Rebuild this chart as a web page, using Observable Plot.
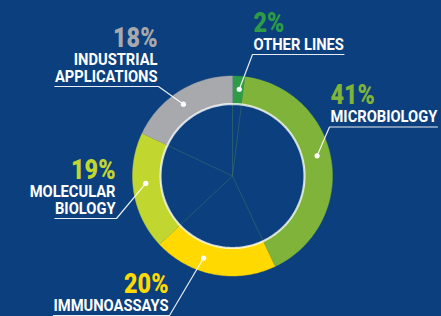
<!DOCTYPE html>
<html>
<head>
<meta charset="utf-8">
<script src="https://cdn.jsdelivr.net/npm/d3@7"></script>
<script src="https://cdn.jsdelivr.net/npm/@observablehq/plot@0.6"></script>
<style>
  html, body { margin: 0; padding: 0; background: #0b3f7e; }
  #chart svg { display: block; }
</style>
</head>
<body>
<div id="chart"></div>
<script>
// ---- data ----
const categories = ["OTHER LINES", "MICROBIOLOGY", "IMMUNOASSAYS", "MOLECULAR\nBIOLOGY", "INDUSTRIAL\nAPPLICATIONS"];
const shares = [2, 41, 20, 19, 18];
const pctLabels = ["2%", "41%", "20%", "19%", "18%"];
const colors = ["#2e9c45", "#80b339", "#ffd900", "#c1d62f", "#a7a9ac"];

// ---- layout (chart units, centre = 0,0, outer radius = 100) ----
const BG = "#0b3f7e";
const R_OUT = 100, R_IN = 72, R_DOT = 87;
const FONT = 'Roboto, "DejaVu Sans", sans-serif';
const NAME_SIZE = 17, PCT_SIZE = 27;
const SX = 0.865; // horizontal condensing of the label type
const layout = [
  {x: 21,   u: -121.5, side: "start", t: 0.62},
  {x: 98,   u: -49,    side: "start", t: 0.47},
  {x: -64,  u: 139.5,  side: "end",   t: 0.62},
  {x: -117, u: 42.5,   side: "end",   t: 0.56},
  {x: -75,  u: -89.5,  side: "end",   t: 0.47}
];

const arcs = d3.pie().sort(null).value(d => d)(shares);
const pt = (r, a) => [r * Math.sin(a), -r * Math.cos(a)];

// ring polygons
const ringPts = [];
arcs.forEach((a, i) => {
  const n = Math.max(4, Math.ceil((a.endAngle - a.startAngle) / 0.02));
  const poly = [];
  for (let k = 0; k <= n; k++) poly.push(pt(R_OUT, a.startAngle + (a.endAngle - a.startAngle) * k / n));
  for (let k = n; k >= 0; k--) poly.push(pt(R_IN, a.startAngle + (a.endAngle - a.startAngle) * k / n));
  poly.forEach(([x, y]) => ringPts.push({x, y, name: categories[i], color: colors[i]}));
});

// inner circle
const circ = d3.range(0, 361, 2).map(d => { const [x, y] = pt(R_IN, d * Math.PI / 180); return {x, y}; });

// faint radial lines
const spokes = [];
arcs.forEach((a, i) => {
  spokes.push({x: 0, y: 0, k: i});
  const [x, y] = pt(R_IN, a.startAngle);
  spokes.push({x, y, k: i});
});

// text measure for underlines
const ctx = document.createElement("canvas").getContext("2d");
ctx.font = `bold ${NAME_SIZE}px ${FONT}`;

const rows = categories.map((c, i) => {
  const a = arcs[i];
  const ang = a.startAngle + (a.endAngle - a.startAngle) * layout[i].t;
  const [dx, dy] = pt(R_DOT, ang);
  const lines = c.split("\n");
  const w = ctx.measureText(lines[lines.length - 1]).width * SX;
  const L = layout[i];
  const nameY = L.u - 5;
  const pctY = nameY - 17 * (lines.length - 1) - 18;
  const far = L.side === "start" ? L.x + w : L.x - w;
  const near = L.side === "start" ? L.x - 1 : L.x + 1;
  return {name: c, pct: pctLabels[i], color: colors[i], side: L.side, x: L.x, nameY, pctY, dx, dy, far, near, u: L.u};
});

const leaders = rows.flatMap((r, i) => [
  {x: r.far, y: r.u, k: i}, {x: r.near, y: r.u, k: i}, {x: r.dx, y: r.dy, k: i}
]);

const textMarks = ["start", "end"].flatMap(side => [
  Plot.text(rows.filter(r => r.side === side), {x: "x", y: "pctY", text: "pct", fill: "color", textAnchor: side, lineAnchor: "bottom", fontSize: PCT_SIZE, fontWeight: 900, className: "lbl"}),
  Plot.text(rows.filter(r => r.side === side), {x: "x", y: "nameY", text: "name", fill: "#ffffff", textAnchor: side, lineAnchor: "bottom", lineHeight: 17 / NAME_SIZE, fontSize: NAME_SIZE, fontWeight: "bold", className: "lbl"})
]);

const plot = Plot.plot({
  width: 441,
  height: 316,
  margin: 0,
  x: {domain: [-232, 209], range: [0, 441], axis: null},
  y: {domain: [-175.5, 140.5], range: [0, 316], axis: null},
  style: {background: BG, fontFamily: FONT},
  marks: [
    Plot.line(ringPts, {x: "x", y: "y", z: "name", fill: "color", stroke: "color", strokeWidth: 0.4, curve: "linear"}),
    Plot.line(spokes, {x: "x", y: "y", z: "k", stroke: "#3f6f6a", strokeWidth: 0.7, strokeOpacity: 0.8}),
    Plot.line(circ, {x: "x", y: "y", stroke: "#ffffff", strokeWidth: 2.2, strokeOpacity: 0.75}),
    Plot.line(leaders, {x: "x", y: "y", z: "k", stroke: "#ffffff", strokeWidth: 1.2, strokeOpacity: 0.9}),
    Plot.dot(rows, {x: "dx", y: "dy", r: 2.6, fill: "#ffffff"}),
    ...textMarks
  ]
});
// condense label type horizontally about each text's anchor
plot.querySelectorAll("g.lbl text").forEach(t => {
  const tr = t.getAttribute("transform") || "";
  t.setAttribute("transform", `${tr} scale(${SX},1)`);
});
document.getElementById("chart").appendChild(plot);
</script>
</body>
</html>
